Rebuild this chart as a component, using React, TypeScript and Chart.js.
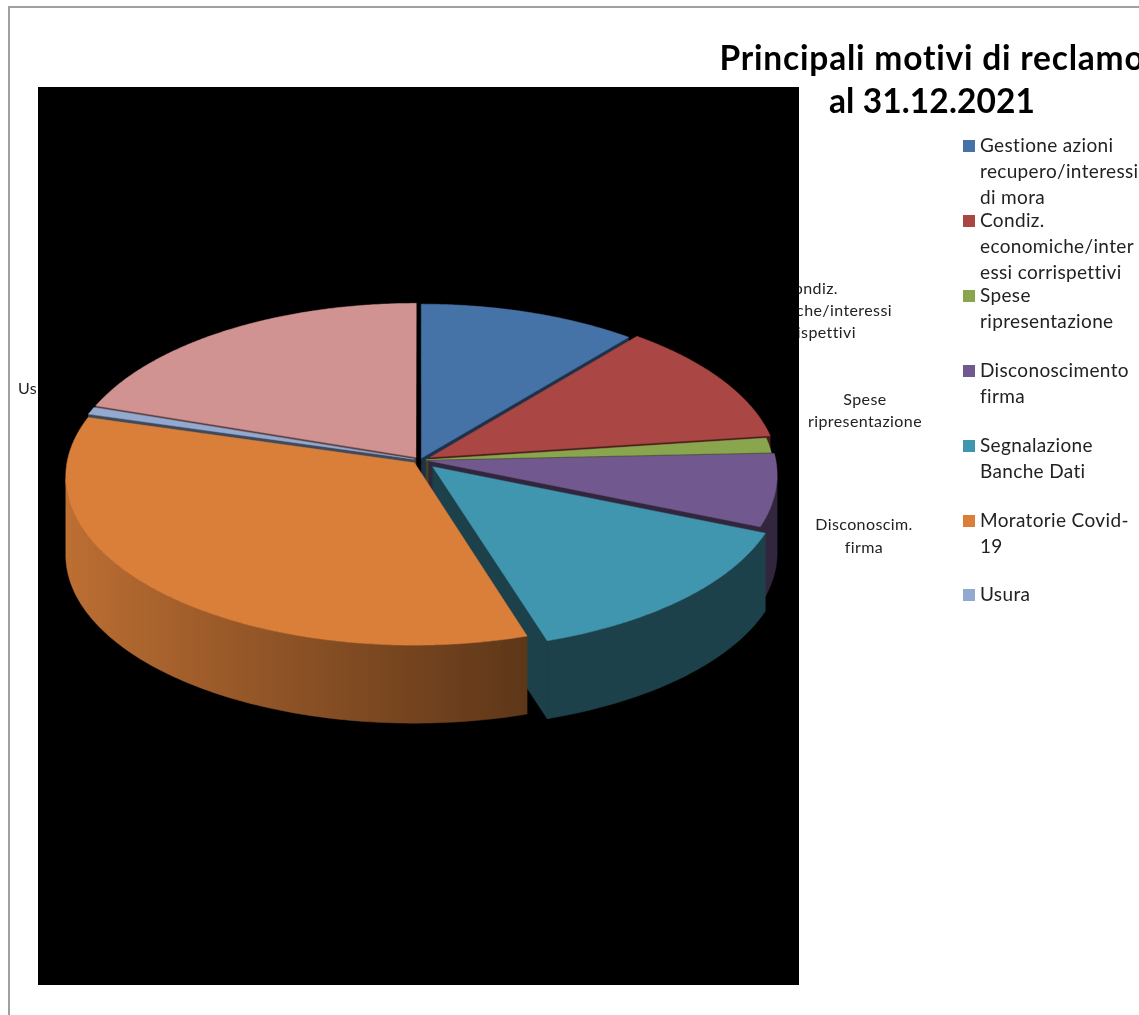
import React, { useEffect, useRef } from "react";
import { Chart, registerables } from "chart.js";

Chart.register(...registerables);

const titleLines = ["Principali motivi di reclamo", "al 31.12.2021"];
const categories = [
  "Gestione azioni recupero/interessi di mora",
  "Condiz. economiche/interessi corrispettivi",
  "Spese ripresentazione",
  "Disconoscimento firma",
  "Segnalazione Banche Dati",
  "Moratorie Covid-19",
  "Usura",
  "",
];
const values = [10.97, 11.94, 1.4, 6.94, 13.9, 34.3, 0.7, 19.85];
const colors = ["#4572a7", "#aa4643", "#89a54e", "#71588f", "#4096ae", "#d97f3a", "#93a9cf", "#d19392"];
const legendLines = [
  ["Gestione azioni", "recupero/interessi", "di mora"],
  ["Condiz.", "economiche/inter", "essi corrispettivi"],
  ["Spese", "ripresentazione"],
  ["Disconoscimento", "firma"],
  ["Segnalazione", "Banche Dati"],
  ["Moratorie Covid-", "19"],
  ["Usura"],
];
const drawOrder = [7, 6, 0, 1, 2, 3, 4, 5];

const explode = [4, 12, 6, 9, 19, 8, 6, 7];
const CX = 420, CY = 460, A = 347, B = 167, K = 0.082, DEPTH = 78;
const FONT = "Lato";
const TEXT = "#222222";

function shade(hex: string, f: number) {
  const n = parseInt(hex.slice(1), 16);
  const c = [(n >> 16) & 255, (n >> 8) & 255, n & 255].map((x) => Math.round(x * f));
  return `rgb(${c[0]},${c[1]},${c[2]})`;
}

function project(u: number, v: number, dz = 0) {
  const w = 1 - K * v;
  return [CX + (A * u) / w, CY + (B * v) / w + dz];
}

function trace(ctx: CanvasRenderingContext2D, pts: number[][]) {
  ctx.beginPath();
  pts.forEach((p, i) => (i ? ctx.lineTo(p[0], p[1]) : ctx.moveTo(p[0], p[1])));
  ctx.closePath();
}

function poly(ctx: CanvasRenderingContext2D, pts: number[][], fill: any) {
  trace(ctx, pts);
  ctx.fillStyle = fill;
  ctx.strokeStyle = fill;
  ctx.lineWidth = 0.5;
  ctx.fill();
  ctx.stroke();
}

function wallFactor(a: number) {
  const u = Math.cos(a);
  if (u > 0.3) return 0.43;
  return 0.43 + ((0.3 - u) / 1.3) * 0.45;
}

const scene3d = {
  id: "scene3d",
  beforeDatasetsDraw(chart: any) {
    const ctx: any = chart.ctx;
    const arcs = chart.getDatasetMeta(0).data;
    ctx.save();
    ctx.fillStyle = "#ffffff";
    ctx.fillRect(0, 0, chart.width, chart.height);
    ctx.fillStyle = "#a0a0a0";
    ctx.fillRect(8, 6, chart.width, 2);
    ctx.fillRect(8, 6, 2, chart.height);

    // data labels partly hidden behind the plot rectangle
    ctx.fillStyle = TEXT;
    ctx.textBaseline = "middle";
    ctx.font = `16px ${FONT}`;
    ctx.letterSpacing = "0.4px";
    ctx.textAlign = "right";
    ctx.fillText("Condiz.", 838, 289);
    ctx.fillText("economiche/interessi", 892, 311);
    ctx.fillText("corrispettivi", 856, 333);
    ctx.textAlign = "left";
    ctx.fillText("Usura", 18, 389);
    ctx.textAlign = "center";
    ctx.fillText("Spese", 865, 400);
    ctx.fillText("ripresentazione", 865, 422);
    ctx.fillText("Disconoscim.", 864, 525);
    ctx.fillText("firma", 864, 548);

    ctx.fillStyle = "#000000";
    ctx.fillRect(38, 87, 761, 898);

    drawOrder.forEach((i) => {
      const arc = arcs[i];
      const R = arc.outerRadius;
      const s = arc.startAngle, e = arc.endAngle;
      const mid = (s + e) / 2;
      const off = (arc.options.offset || 0) / R;
      const ou = Math.cos(mid) * off, ov = Math.sin(mid) * off;
      const color = colors[i];
      const dark = shade(color, 0.43);
      const rim = (a: number, dz = 0) => project(ou + Math.cos(a), ov + Math.sin(a), dz);
      const apex = (dz = 0) => project(ou, ov, dz);
      if (-Math.cos(s) > 0) poly(ctx, [apex(), rim(s), rim(s, DEPTH), apex(DEPTH)], dark);
      if (Math.cos(e) > 0) poly(ctx, [apex(), rim(e), rim(e, DEPTH), apex(DEPTH)], dark);

      // outer wall: only the front of the rim, ending at the horizontal extremes
      const step = Math.PI / 180;
      const front = (a: number) => Math.sin(a) >= K;
      const angles: number[] = [];
      for (let a = s; a < e; a += step) if (front(a)) angles.push(a);
      if (front(e)) angles.push(e);
      if (angles.length > 1) {
        const upper = angles.map((a) => rim(a));
        const lower = angles.map((a) => rim(a, DEPTH)).reverse();
        const xs = upper.map((p) => p[0]);
        const minX = Math.min(...xs), maxX = Math.max(...xs);
        const g = ctx.createLinearGradient(minX, 0, Math.max(maxX, minX + 1), 0);
        angles
          .map((a) => ({ t: (rim(a)[0] - minX) / Math.max(maxX - minX, 1), f: wallFactor(a) }))
          .sort((p, q) => p.t - q.t)
          .forEach((p) => g.addColorStop(p.t, shade(color, p.f)));
        poly(ctx, [...upper, ...lower], g);
      }

      const top = [apex()];
      for (let a = s; a < e; a += step / 2) top.push(rim(a));
      top.push(rim(e));
      poly(ctx, top, color);
    });

    // title
    ctx.fillStyle = "#000000";
    ctx.font = `bold 33.5px ${FONT}`;
    ctx.letterSpacing = "0.8px";
    ctx.textAlign = "center";
    ctx.fillText(titleLines[0], 932, 59);
    ctx.letterSpacing = "0.1px";
    ctx.fillText(titleLines[1], 932, 102);

    // legend
    ctx.font = `19px ${FONT}`;
    ctx.letterSpacing = "0.35px";
    ctx.textAlign = "left";
    legendLines.forEach((lines, i) => {
      const y = 146 + Math.round(i * 74.9);
      ctx.fillStyle = colors[i];
      ctx.fillRect(963, y - 6, 12, 12);
      ctx.fillStyle = TEXT;
      lines.forEach((t, j) => ctx.fillText(t, 980, y + j * 26));
    });
    ctx.restore();
    return false;
  },
};

export default function App() {
  const ref = useRef<HTMLCanvasElement>(null);
  useEffect(() => {
    const chart = new Chart(ref.current as HTMLCanvasElement, {
      type: "pie",
      data: {
        labels: categories,
        datasets: [{ data: values, backgroundColor: colors, offset: explode, borderWidth: 0 }],
      },
      options: {
        animation: false,
        responsive: false,
        devicePixelRatio: 1,
        radius: 350,
        plugins: { legend: { display: false }, tooltip: { enabled: false }, title: { display: false } },
      } as any,
      plugins: [scene3d],
    });
    return () => chart.destroy();
  }, []);
  return (
    <canvas
      ref={ref}
      width={1139}
      height={1015}
      style={{ position: "fixed", left: 0, top: 0, width: 1139, height: 1015, display: "block" }}
    />
  );
}
